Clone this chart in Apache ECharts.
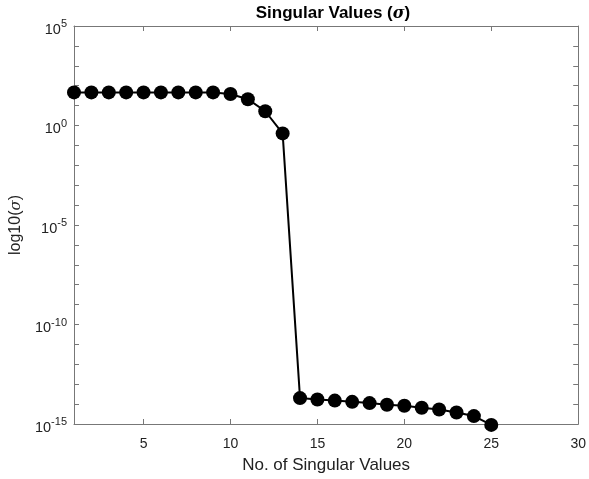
<!DOCTYPE html>
<html><head><meta charset="utf-8">
<script src="https://cdn.jsdelivr.net/npm/echarts@6/dist/echarts.min.js"></script>
<style>html,body{margin:0;padding:0;background:#fff}#c{width:589px;height:479px}</style>
</head><body><div id="c"></div>
<script>
const indices = [1,2,3,4,5,6,7,8,9,10,11,12,13,14,15,16,17,18,19,20,21,22,23,24,25];
const sigma = [46,46,46,46,46,46,46,46,46,38,21,5.2,0.4,
  2.0e-14,1.7e-14,1.5e-14,1.3e-14,1.12e-14,9.3e-15,8.3e-15,6.6e-15,5.4e-15,3.8e-15,2.5e-15,0.9e-15];
const xTicks = [5,10,15,20,25,30];
const yLabelTicks = [1e-15,1e-10,1e-5,1,1e5];
const yDecadeTicks = [1e-15,1e-14,1e-13,1e-12,1e-11,1e-10,1e-9,1e-8,1e-7,1e-6,1e-5,1e-4,1e-3,1e-2,1e-1,1,1e1,1e2,1e3,1e4,1e5];

const axisColor = '#777';
const font = 'Liberation Sans, Arial, Helvetica, sans-serif';
const chart = echarts.init(document.getElementById('c'), null, {renderer:'canvas'});

function ylab(v){
  const e = Math.round(Math.log10(v));
  return '{b|10}{s|' + e + '}';
}
const commonY = {
  type:'log', logBase:10, min:1e-15, max:1e5, interval:5,
  axisLine:{show:true, lineStyle:{color:axisColor, width:1}},
  axisTick:{show:true, inside:true, length:5, lineStyle:{color:axisColor},
    customValues: yDecadeTicks},
  splitLine:{show:false}
};
const commonX = {
  type:'value', min:1, max:30, interval:5,
  axisLine:{show:true, onZero:false, lineStyle:{color:axisColor, width:1}},
  axisTick:{show:true, inside:true, length:5, lineStyle:{color:axisColor},
    customValues: xTicks},
  splitLine:{show:false}
};

chart.setOption({
  animation:false,
  backgroundColor:'#fff',
  title:{
    text:'{b|Singular Values (}{i|σ}{b|)}',
    left:328, top:0, textAlign:'center',
    textStyle:{rich:{
      b:{fontFamily:font, fontWeight:'bold', fontSize:17, color:'#000'},
      i:{fontFamily:'DejaVu Serif, serif', fontStyle:'italic', fontWeight:'bold', fontSize:16, color:'#000'}
    }}
  },
  grid:{left:72.7, right:10, top:26, bottom:53.7, containLabel:false},
  xAxis:[
    Object.assign({}, commonX, {
      position:'bottom',
      name:'No. of Singular Values', nameLocation:'middle', nameGap:33,
      nameTextStyle:{fontFamily:font, fontSize:17, color:'#222'},
      axisLabel:{fontFamily:font, fontSize:14, color:'#222', margin:13,
        customValues: xTicks}
    }),
    Object.assign({}, commonX, {position:'top', axisLabel:{show:false}})
  ],
  yAxis:[
    Object.assign({}, commonY, {
      position:'left',
      name:'{n|log10(}{i|σ}{n|)}', nameLocation:'middle', nameGap:50, nameRotate:90,
      nameTextStyle:{rich:{
        n:{fontFamily:font, fontSize:16, color:'#222'},
        i:{fontFamily:'DejaVu Serif, serif', fontStyle:'italic', fontSize:15, color:'#222'}
      }},
      axisLabel:{formatter: ylab, margin:7, customValues: yLabelTicks, rich:{
        b:{fontFamily:font, fontSize:14.5, color:'#222', padding:[7,0,0,0]},
        s:{fontFamily:font, fontSize:11, color:'#222', padding:[0,0,4,0]}
      }}
    }),
    Object.assign({}, commonY, {position:'right', axisLabel:{show:false}})
  ],
  series:[{
    type:'line',
    data: indices.map((x,i)=>[x, sigma[i]]),
    symbol:'circle', symbolSize:14,
    lineStyle:{color:'#000', width:2},
    itemStyle:{color:'#000'},
    clip:false
  }]
});
</script>
</body></html>
